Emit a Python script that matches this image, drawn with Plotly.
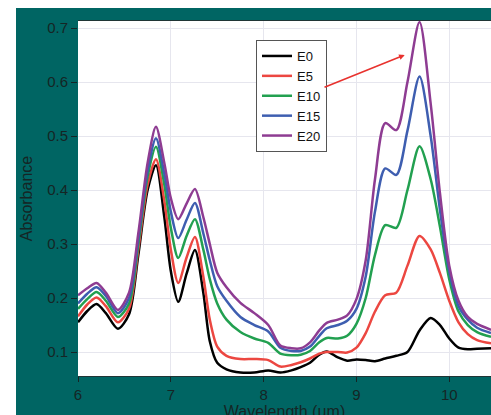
import plotly.graph_objects as go

wavelength = [6.0, 6.1, 6.2, 6.3, 6.43, 6.55, 6.65, 6.75, 6.84, 6.93, 7.0, 7.08, 7.17, 7.26, 7.35, 7.42,
              7.5, 7.6, 7.75, 7.9, 8.05, 8.18, 8.3, 8.4, 8.5, 8.6, 8.68, 8.8, 8.9, 9.0, 9.1, 9.2, 9.31,
              9.43, 9.55, 9.68, 9.8, 9.9, 10.0, 10.1, 10.2, 10.3, 10.45]

E0 = [0.155, 0.176, 0.189, 0.172, 0.143, 0.17, 0.28, 0.40, 0.446, 0.35, 0.25, 0.193, 0.245, 0.289, 0.21, 0.12,
      0.08, 0.068, 0.062, 0.062, 0.066, 0.062, 0.066, 0.072, 0.08, 0.095, 0.101, 0.09, 0.084, 0.086, 0.085,
      0.083, 0.088, 0.093, 0.10, 0.14, 0.163, 0.15, 0.125, 0.108, 0.105, 0.106, 0.107]
E5 = [0.166, 0.188, 0.201, 0.185, 0.155, 0.18, 0.29, 0.41, 0.457, 0.38, 0.29, 0.228, 0.275, 0.313, 0.24, 0.16,
      0.11, 0.093, 0.087, 0.087, 0.085, 0.073, 0.076, 0.081, 0.088, 0.097, 0.10, 0.10, 0.099, 0.108, 0.135,
      0.175, 0.205, 0.21, 0.26, 0.315, 0.29, 0.246, 0.195, 0.155, 0.133, 0.122, 0.116]
E10 = [0.18, 0.198, 0.211, 0.195, 0.165, 0.19, 0.30, 0.425, 0.48, 0.41, 0.33, 0.274, 0.315, 0.346, 0.29, 0.235,
       0.19, 0.16, 0.137, 0.125, 0.117, 0.097, 0.094, 0.095, 0.102, 0.118, 0.126, 0.125, 0.13, 0.152, 0.20,
       0.28, 0.335, 0.33, 0.40, 0.481, 0.42, 0.332, 0.235, 0.175, 0.15, 0.137, 0.128]
E15 = [0.19, 0.208, 0.22, 0.204, 0.172, 0.20, 0.31, 0.435, 0.496, 0.43, 0.36, 0.311, 0.345, 0.376, 0.32, 0.27,
       0.222, 0.195, 0.165, 0.15, 0.138, 0.108, 0.102, 0.102, 0.11, 0.13, 0.144, 0.15, 0.158, 0.18, 0.24,
       0.36, 0.44, 0.428, 0.51, 0.61, 0.50, 0.363, 0.25, 0.185, 0.16, 0.145, 0.135]
E20 = [0.205, 0.218, 0.228, 0.21, 0.178, 0.21, 0.32, 0.45, 0.517, 0.45, 0.385, 0.346, 0.375, 0.402, 0.35, 0.30,
       0.247, 0.22, 0.191, 0.172, 0.15, 0.112, 0.107, 0.107, 0.118, 0.14, 0.154, 0.16, 0.168, 0.198, 0.27,
       0.42, 0.524, 0.511, 0.60, 0.711, 0.56, 0.394, 0.26, 0.195, 0.165, 0.152, 0.141]

series_names = ["E0", "E5", "E10", "E15", "E20"]
series_values = [E0, E5, E10, E15, E20]
series_colors = ["#000000", "#ec4741", "#22a050", "#3e5eb0", "#8e3c92"]

x_ticks = [6, 7, 8, 9, 10]
y_ticks = [0.1, 0.2, 0.3, 0.4, 0.5, 0.6, 0.7]

TEAL = "#006563"
TXT = "#152525"

fig = go.Figure()
for name, vals, col in zip(series_names, series_values, series_colors):
    fig.add_trace(go.Scatter(x=wavelength, y=vals, name=name, mode="lines",
                             line=dict(color=col, width=2.5, shape="spline", smoothing=0.8)))

# figure is slightly taller than the 415px window, so the axis title is clipped like the original
W, H = 491, 425
L, R, T, B = 78, 0, 21, 49
pw, ph = W - L - R, H - T - B


def px_x(p):
    return (p - L) / pw


def px_y(p):
    return (H - B - p) / ph


fig.update_layout(
    width=W, height=H,
    margin=dict(l=L, r=R, t=T, b=B, autoexpand=False),
    paper_bgcolor=TEAL, plot_bgcolor="white",
    font=dict(family="Liberation Sans, Arial, sans-serif", color=TXT, size=15),
    showlegend=True,
    legend=dict(x=px_x(256), y=px_y(40), xanchor="left", yanchor="top",
                bgcolor="white", bordercolor="#555555", borderwidth=1,
                font=dict(size=13, color="#111111"), tracegroupgap=0),
    shapes=[
        dict(type="rect", xref="paper", yref="paper", x0=px_x(-5), x1=px_x(16), y0=px_y(430), y1=px_y(-5),
             fillcolor="white", line=dict(width=0), layer="above"),
        dict(type="rect", xref="paper", yref="paper", x0=px_x(-5), x1=px_x(496), y0=px_y(8), y1=px_y(-5),
             fillcolor="white", line=dict(width=0), layer="above"),
    ],
    annotations=[
        dict(x=9.52, y=0.65, ax=8.64, ay=0.589, xref="x", yref="y", axref="x", ayref="y",
             text="", showarrow=True, arrowhead=2, arrowsize=0.7, arrowwidth=1.6, arrowcolor="#e8322e"),
    ],
)

fig.update_xaxes(range=[6, 10.45], tickvals=x_ticks, ticktext=[str(v) for v in x_ticks],
                 showgrid=True, gridcolor="#e6e6ee", gridwidth=1,
                 ticks="outside", ticklen=5, tickcolor=TXT, zeroline=False,
                 showline=True, linecolor="#203535", linewidth=1, mirror=True,
                 title=dict(text="Wavelength (µm)", font=dict(size=16), standoff=2))
fig.update_yaxes(range=[0.0556, 0.713], tickvals=y_ticks, ticktext=[f"{v:.1f}" for v in y_ticks],
                 showgrid=True, gridcolor="#e6e6ee", gridwidth=1,
                 ticks="outside", ticklen=6, tickcolor=TXT, zeroline=False,
                 title=dict(text="Absorbance", font=dict(size=16), standoff=10))

fig.write_html("out.html", config={"displayModeBar": False},
               post_script="document.body.style.margin='0';document.body.style.overflow='hidden';")
